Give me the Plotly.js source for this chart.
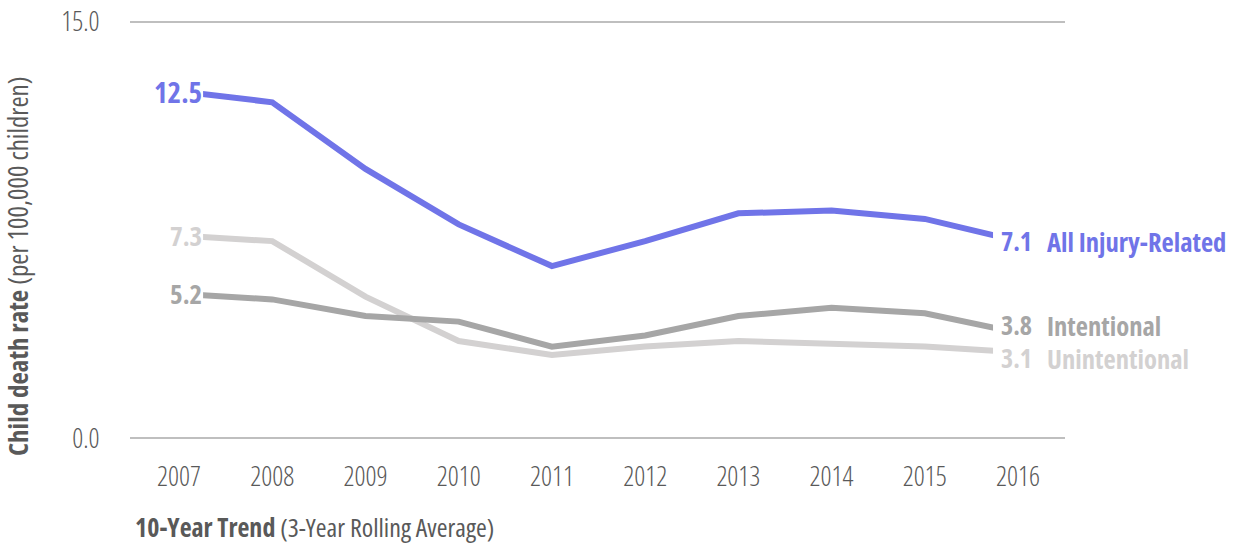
<!DOCTYPE html>
<html>
<head>
<meta charset="utf-8">
<script src="https://cdn.plot.ly/plotly-3.0.1.min.js"></script>
<style>
  html, body { margin: 0; padding: 0; background: #fff; }
  #chart { width: 1239px; height: 546px; }
  svg text, text { font-stretch: 75% !important; }
</style>
</head>
<body>
<div id="chart"></div>
<script>
const years = [2007, 2008, 2009, 2010, 2011, 2012, 2013, 2014, 2015, 2016];
const allInjury = [12.5, 12.1, 9.7, 7.7, 6.2, 7.1, 8.1, 8.2, 7.9, 7.1];
const intentional = [5.2, 5.0, 4.4, 4.2, 3.3, 3.7, 4.4, 4.7, 4.5, 3.8];
const unintentional = [7.3, 7.1, 5.1, 3.5, 3.0, 3.3, 3.5, 3.4, 3.3, 3.1];
const seriesNames = ["All Injury-Related", "Intentional", "Unintentional"];
const yTickVals = [0, 15];
const yTickText = ["0.0", "15.0"];
const xTitleBold = "10-Year Trend";
const xTitleRest = "(3-Year Rolling Average)";
const yTitleBold = "Child death rate";
const yTitleRest = "(per 100,000 children)";

const FONT = "Open Sans, Liberation Sans Narrow, sans-serif";
const colors = ["#7074e8", "#a6a6a6", "#d3d1d1"];
const seriesData = [allInjury, intentional, unintentional];

const traces = seriesData.map((vals, i) => ({
  type: "scatter",
  mode: "lines",
  x: years,
  y: vals,
  name: seriesNames[i],
  line: { color: colors[i], width: 6, shape: "linear" },
  hoverinfo: "x+y+name"
}));
traces.reverse();

const first = years[0], last = years[years.length - 1];
const xRange = [first - 0.526, last + 0.504];

const annotations = [];
seriesData.forEach((vals, i) => {
  annotations.push({
    x: first, y: vals[0], xref: "x", yref: "y",
    text: "<b>" + vals[0].toFixed(1) + "</b>",
    showarrow: false, xanchor: "right", yanchor: "middle",
    xshift: 25, yshift: 0,
    font: { family: FONT, size: i === 0 ? 29 : 27, color: colors[i] }
  });
});
const rightShift = [0, 8, -6];
seriesData.forEach((vals, i) => {
  const v = vals[vals.length - 1];
  annotations.push({
    x: last, y: v, xref: "x", yref: "y",
    text: "<b>" + v.toFixed(1) + "</b>",
    showarrow: false, xanchor: "left", yanchor: "middle",
    xshift: -19, yshift: rightShift[i],
    font: { family: FONT, size: 26, color: colors[i] }
  });
  annotations.push({
    x: last, y: v, xref: "x", yref: "y",
    text: "<b>" + seriesNames[i] + "</b>",
    showarrow: false, xanchor: "left", yanchor: "middle",
    xshift: 27, yshift: rightShift[i] - 1,
    font: { family: FONT, size: 26.6, color: colors[i] }
  });
});
annotations.push({
  xref: "paper", yref: "paper", x: 0, y: 0,
  text: "<b>" + xTitleBold + "</b> " + xTitleRest,
  showarrow: false, xanchor: "left", yanchor: "middle",
  xshift: 3, yshift: -86,
  font: { family: FONT, size: 26, color: "#595959" }
});
annotations.push({
  xref: "paper", yref: "paper", x: 0, y: 0.5,
  text: "<b>" + yTitleBold + "</b> " + yTitleRest,
  showarrow: false, textangle: -90, xanchor: "center", yanchor: "middle",
  xshift: -113, yshift: -36,
  font: { family: FONT, size: 27, color: "#595959" }
});

const layout = {
  width: 1239, height: 546,
  margin: { l: 130, r: 174, t: 19, b: 105 },
  paper_bgcolor: "#ffffff",
  plot_bgcolor: "#ffffff",
  showlegend: false,
  font: { family: FONT, color: "#595959" },
  xaxis: {
    range: xRange,
    tickvals: years,
    ticktext: years.map(String),
    showgrid: false, zeroline: false, showline: false,
    ticks: "outside", ticklen: 12, tickcolor: "rgba(0,0,0,0)",
    tickfont: { family: FONT, size: 27, color: "#595959", weight: 300 },
    fixedrange: true
  },
  yaxis: {
    range: [-0.1, 15.1],
    tickvals: yTickVals,
    ticktext: yTickText,
    showgrid: true, gridcolor: "#bfbfbf", gridwidth: 2,
    zeroline: false, showline: false,
    ticks: "outside", ticklen: 24, tickcolor: "rgba(0,0,0,0)",
    tickfont: { family: FONT, size: 27, color: "#595959", weight: 300 },
    fixedrange: true
  },
  shapes: [
    { type: "rect", xref: "x", yref: "y", x0: xRange[0], x1: first + 0.258, y0: 0.5, y1: 14.5,
      fillcolor: "#ffffff", line: { width: 0 }, layer: "above" },
    { type: "rect", xref: "x", yref: "y", x0: last - 0.268, x1: xRange[1], y0: 0.5, y1: 14.5,
      fillcolor: "#ffffff", line: { width: 0 }, layer: "above" }
  ],
  annotations: annotations
};

Plotly.newPlot("chart", traces, layout, { displayModeBar: false, staticPlot: true });
</script>
</body>
</html>
